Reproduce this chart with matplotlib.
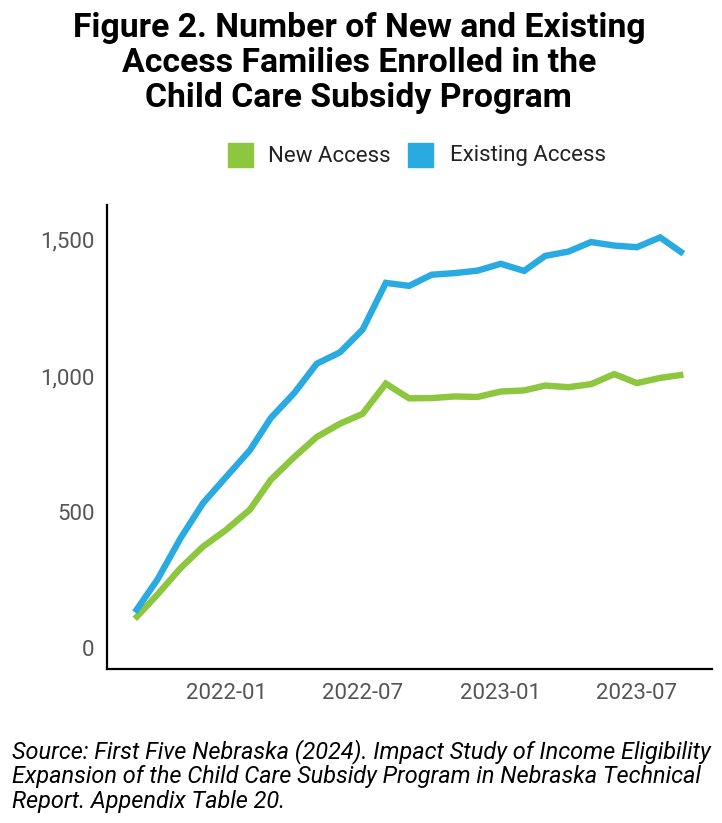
import matplotlib
matplotlib.use("Agg")
import matplotlib.pyplot as plt
import matplotlib.dates as mdates
from matplotlib.ticker import FuncFormatter
from matplotlib.patches import Rectangle
import pandas as pd
import numpy as np

months = pd.date_range("2021-09-01", periods=25, freq="MS")
new_access = [108, 197, 295, 374, 436, 509, 619, 702, 776, 825, 861, 972, 918,
              919, 925, 923, 943, 947, 965, 959, 970, 1007, 974, 993, 1005]
existing_access = [132, 252, 405, 534, 631, 727, 846, 937, 1045, 1087, 1170, 1342, 1331,
                   1372, 1378, 1387, 1412, 1386, 1441, 1457, 1492, 1479, 1473, 1509, 1449]
series_names = ["New Access", "Existing Access"]
colors = ["#8DC63F", "#29ABE2"]
tick_dates = pd.to_datetime(["2022-01-01", "2022-07-01", "2023-01-01", "2023-07-01"])
y_ticks = [0, 500, 1000, 1500]

W, H = 722, 823
fig = plt.figure(figsize=(W / 100, H / 100), dpi=100)
ax = fig.add_axes([107 / W, 1 - 669 / H, (712 - 107) / W, (669 - 205) / H])

ax.plot(months, new_access, color=colors[0], lw=4.6, solid_joinstyle="miter", solid_capstyle="butt")
ax.plot(months, existing_access, color=colors[1], lw=4.6, solid_joinstyle="miter", solid_capstyle="butt")

ax.set_xlim(pd.Timestamp("2021-07-26"), pd.Timestamp("2023-10-09"))
ax.set_ylim(-76, 1628)
ax.set_xticks(tick_dates)
ax.xaxis.set_major_formatter(mdates.DateFormatter("%Y-%m"))
ax.set_yticks(y_ticks)
ax.yaxis.set_major_formatter(FuncFormatter(lambda v, p: f"{int(v):,}"))
ax.tick_params(length=0, labelsize=16, labelcolor="#555555")
ax.tick_params(axis="y", pad=9)
ax.tick_params(axis="x", pad=10)
for lab in ax.get_xticklabels() + ax.get_yticklabels():
    lab.set_fontfamily("Roboto")
for s in ["top", "right"]:
    ax.spines[s].set_visible(False)
for s in ["left", "bottom"]:
    ax.spines[s].set_linewidth(1.6)
    ax.spines[s].set_color("black")

fig.text(0.497, 1 - 12 / H,
         "Figure 2. Number of New and Existing\nAccess Families Enrolled in the\nChild Care Subsidy Program",
         ha="center", va="top", fontsize=24.3, fontweight="bold", family="Roboto",
         linespacing=1.12, color="black")

# legend
lx = [228, 408]
tx = [268, 450]
for i in range(2):
    fig.patches.append(Rectangle((lx[i] / W, 1 - 167 / H), 25 / W, 24 / H,
                                 transform=fig.transFigure, color=colors[i]))
    fig.text(tx[i] / W, 1 - 156 / H, series_names[i], ha="left", va="center",
             fontsize=16, family="Roboto", color="#222222")

fig.text(12 / W, 1 - 739 / H,
         "Source: First Five Nebraska (2024). Impact Study of Income Eligibility\n"
         "Expansion of the Child Care Subsidy Program in Nebraska Technical\n"
         "Report. Appendix Table 20.",
         ha="left", va="top", fontsize=16.9, style="italic", family="Roboto",
         linespacing=1.08, color="black")

fig.savefig("out.png", dpi=100)
